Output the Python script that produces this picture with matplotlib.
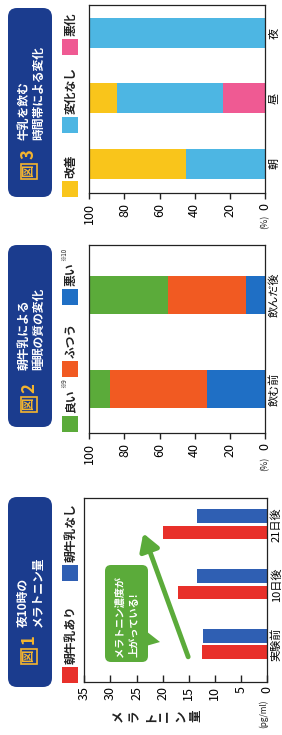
import matplotlib
matplotlib.use('Agg')
import matplotlib.pyplot as plt
from matplotlib.patches import FancyBboxPatch, Rectangle, Polygon

plt.rcParams['font.family'] = ['Noto Sans CJK JP', 'DejaVu Sans']

# --- data ---
p1_cats = ['実験前', '10日後', '21日後']
p1_with = [12.5, 17.1, 20.0]      # 朝牛乳あり
p1_without = [12.3, 13.4, 13.4]   # 朝牛乳なし
p1_ticks = [0, 5, 10, 15, 20, 25, 30, 35]

p2_cats = ['飲む前', '飲んだ後']
p2_good = [12, 45]
p2_normal = [55, 44]
p2_bad = [33, 11]

p3_cats = ['朝', '昼', '夜']
p3_better = [55, 16, 0]
p3_same = [45, 60, 100]
p3_worse = [0, 24, 0]

pct_ticks = [0, 20, 40, 60, 80, 100]

# colours
red = '#e8302a'
blue1 = '#2f5fb3'
green = '#5bab3a'
orange = '#f15a22'
blue2 = '#1f6fc5'
yellow = '#f9c51b'
lblue = '#4db6e3'
pink = '#ef5a93'
navy = '#1b3c8e'
badge = '#f5b52e'
dark = '#222222'

W, H = 282, 735
fig = plt.figure(figsize=(W / 100, H / 100), dpi=100)


def px_axes(x0, y0, x1, y1):
    return fig.add_axes([x0 / W, 1 - y1 / H, (x1 - x0) / W, (y1 - y0) / H])


def setup(ax, cats, xmax, ticks, ylim, tickdir, ticklen):
    ax.set_xlim(xmax, 0)
    ax.set_ylim(*ylim)
    ax.set_xticks(ticks)
    ax.set_xticklabels([str(t) for t in ticks], rotation=90, fontsize=9)
    ax.set_yticks(range(len(cats)))
    ax.set_yticklabels(cats, rotation=90, fontsize=8, va='center')
    ax.yaxis.tick_right()
    ax.tick_params(axis='y', length=0, pad=3)
    ax.tick_params(axis='x', direction=tickdir, length=ticklen, width=1, color=dark, pad=3)
    for s in ax.spines.values():
        s.set_linewidth(0.9)
        s.set_color(dark)


# --- 図1 ---
ax1 = px_axes(84.3, 498, 267, 682)
y1 = list(range(len(p1_cats)))
ax1.barh([y - 0.135 for y in y1], p1_with, height=0.23, color=red)
ax1.barh([y + 0.14 for y in y1], p1_without, height=0.23, color=blue1)
setup(ax1, p1_cats, 35, p1_ticks, (-0.63, 2.44), 'in', 5)
ax1.annotate('', xy=(23.7, 1.85), xytext=(15.1, -0.21),
             arrowprops=dict(arrowstyle='-|>,head_length=0.5,head_width=0.3',
                             color=green, lw=3.5, mutation_scale=20,
                             shrinkA=0, shrinkB=0))

# --- 図2 ---
ax2 = px_axes(89.3, 245, 265, 433)
y2 = list(range(len(p2_cats)))
left = [0] * len(p2_cats)
for vals, col in [(p2_bad, blue2), (p2_normal, orange), (p2_good, green)]:
    ax2.barh(y2, vals, left=left, height=0.40, color=col)
    left = [a + b for a, b in zip(left, vals)]
setup(ax2, p2_cats, 100, pct_ticks, (-0.47, 1.53), 'out', 4)

# --- 図3 ---
ax3 = px_axes(89.3, 5, 265, 193)
y3 = list(range(len(p3_cats)))
left = [0] * len(p3_cats)
for vals, col in [(p3_worse, pink), (p3_same, lblue), (p3_better, yellow)]:
    ax3.barh(y3, vals, left=left, height=0.46, color=col)
    left = [a + b for a, b in zip(left, vals)]
setup(ax3, p3_cats, 100, pct_ticks, (-0.45, 2.43), 'out', 4)

# --- overlay in pixel coordinates for boxes, legends and notes ---
ov = fig.add_axes([0, 0, 1, 1], zorder=5)
ov.set_xlim(0, W)
ov.set_ylim(H, 0)
ov.axis('off')
ov.patch.set_alpha(0)

# unit labels under the 0 ticks
ov.text(263.5, 700, '(pg/ml)', rotation=90, ha='center', va='top', fontsize=6, color=dark)
ov.text(265, 215, '(%)', rotation=90, ha='center', va='top', fontsize=6.5, color=dark)
ov.text(265, 457, '(%)', rotation=90, ha='center', va='top', fontsize=6.5, color=dark)

# y label of 図1, upright characters turned with the page
for i, ch in enumerate('メラトニン量'):
    ov.text(119 + i * 15.3, 716, ch, rotation=90, ha='center', va='center',
            fontsize=9, fontweight='bold', color=dark)

# title boxes
titles = [
    (497, 687, '1', '夜10時の\nメラトニン量', 656, 639, 627),
    (245, 427, '2', '朝牛乳による\n睡眠の質の変化', 404, 388, 370),
    (8, 197, '3', '牛乳を飲む\n時間帯による変化', 171, 154, 140),
]
for ya, yb, num, txt, yfig, ynum, ytxt in titles:
    ov.add_patch(FancyBboxPatch((8, ya), 44, yb - ya,
                                boxstyle='round,pad=0,rounding_size=9',
                                fc=navy, ec='none'))
    ov.text(29, yfig, '図', rotation=90, ha='center', va='center', fontsize=9,
            fontweight='bold', color=badge,
            bbox=dict(boxstyle='square,pad=0.1', fc='none', ec=badge, lw=1.2))
    ov.text(29, ynum, num, rotation=90, ha='center', va='center', fontsize=12,
            fontweight='bold', color=badge)
    ov.text(31, ytxt, txt, rotation=90, rotation_mode='anchor', ha='left',
            va='center', multialignment='left', fontsize=8.5,
            fontweight='bold', color='white', linespacing=1.15)

# legends
legend = [
    (red, 667, '朝牛乳あり', ''), (blue1, 565, '朝牛乳なし', ''),
    (green, 416, '良い', '※9'), (orange, 361, 'ふつう', ''), (blue2, 289, '悪い', '※10'),
    (yellow, 181, '改善', ''), (lblue, 117, '変化なし', ''), (pink, 39, '悪化', ''),
]
for col, ysq, label, note in legend:
    ov.add_patch(Rectangle((62, ysq), 16, 16, fc=col, ec='none'))
    t = ov.text(71, ysq - 3, label, rotation=90, rotation_mode='anchor',
                ha='left', va='center', fontsize=8.5, fontweight='bold', color=dark)
    if note:
        n = len(label)
        ov.text(64, ysq - 3 - n * 12 - 1, note, rotation=90, rotation_mode='anchor',
                ha='left', va='center', fontsize=4.5, color=dark)

# callout in 図1
ov.add_patch(FancyBboxPatch((105, 565), 43, 97,
                            boxstyle='round,pad=0,rounding_size=6',
                            fc=green, ec='none'))
ov.add_patch(Polygon([(146, 631), (160, 642), (146, 646)], closed=True,
                     fc=green, ec='none'))
ov.text(127, 657, 'メラトニン濃度が\n上がっている!', rotation=90,
        rotation_mode='anchor', ha='left', va='center', multialignment='left',
        fontsize=7.3, fontweight='bold', color='white', linespacing=1.5)

fig.savefig('out.png', dpi=100)
